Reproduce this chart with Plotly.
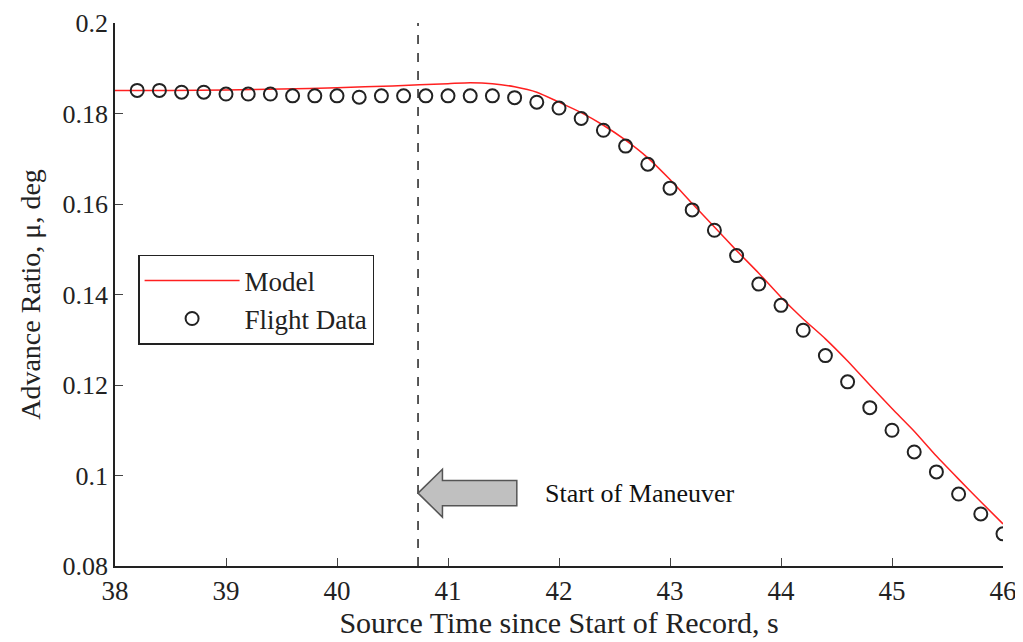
import plotly.graph_objects as go

# Flight data (every 0.2 s)
flight_t = [38.2, 38.4, 38.6, 38.8, 39.0, 39.2, 39.4, 39.6, 39.8, 40.0,
            40.2, 40.4, 40.6, 40.8, 41.0, 41.2, 41.4, 41.6, 41.8, 42.0,
            42.2, 42.4, 42.6, 42.8, 43.0, 43.2, 43.4, 43.6, 43.8, 44.0,
            44.2, 44.4, 44.6, 44.8, 45.0, 45.2, 45.4, 45.6, 45.8, 46.0]
flight_mu = [0.1851, 0.1851, 0.1847, 0.1847, 0.1843, 0.1843, 0.1843, 0.1839, 0.1839, 0.1839,
             0.1836, 0.1839, 0.1839, 0.1839, 0.1839, 0.1839, 0.1839, 0.1835, 0.1825, 0.1812,
             0.1789, 0.1763, 0.1728, 0.1688, 0.1635, 0.1587, 0.1542, 0.1486, 0.1423, 0.1376,
             0.1321, 0.1265, 0.1207, 0.1150, 0.1100, 0.1052, 0.1008, 0.0959, 0.0915, 0.0871]

# Model
model_t = [38.0, 38.5, 39.0, 39.5, 40.0, 40.5, 41.0, 41.2, 41.4, 41.6, 41.8, 42.0,
           42.2, 42.4, 42.6, 42.8, 43.0, 43.2, 43.4, 43.6, 43.8, 44.0, 44.2,
           44.4, 44.6, 44.8, 45.0, 45.2, 45.4, 45.6, 45.8, 46.0]
model_mu = [0.1851, 0.1851, 0.1852, 0.1854, 0.1857, 0.1861, 0.1866, 0.1868, 0.1866, 0.1859,
            0.1847, 0.1825, 0.1802, 0.1774, 0.1741, 0.1702, 0.1654, 0.1601, 0.1549, 0.1497,
            0.1447, 0.1394, 0.1346, 0.1302, 0.1253, 0.1200, 0.1148, 0.1098, 0.1043, 0.0992,
            0.0942, 0.0893]

maneuver_t = 40.73
x_ticks = [38, 39, 40, 41, 42, 43, 44, 45, 46]
y_ticks = [0.08, 0.1, 0.12, 0.14, 0.16, 0.18, 0.2]
y_ticklabels = ["0.08", "0.1", "0.12", "0.14", "0.16", "0.18", "0.2"]

FONT = "Liberation Serif, Times New Roman, serif"
INK = "#222222"

fig = go.Figure()
fig.add_trace(go.Scatter(x=model_t, y=model_mu, mode="lines", name="Model",
                         line=dict(color="#ff2020", width=1.5, shape="spline", smoothing=0.6)))
fig.add_trace(go.Scatter(x=flight_t, y=flight_mu, mode="markers", name="Flight Data",
                         marker=dict(symbol="circle-open", size=13, color=INK,
                                     line=dict(width=2, color=INK))))

# vertical dashed line
fig.add_shape(type="line", x0=maneuver_t, x1=maneuver_t, y0=0.08, y1=0.2,
              xref="x", yref="y", line=dict(color=INK, width=1.5, dash="dash"))

# block arrow pointing to maneuver line
tip_x, head_x, tail_x = maneuver_t, 40.95, 41.62
yc, hh, sh = 0.0961, 0.0053, 0.0028
path = (f"M {tip_x},{yc} L {head_x},{yc+hh} L {head_x},{yc+sh} L {tail_x},{yc+sh} "
        f"L {tail_x},{yc-sh} L {head_x},{yc-sh} L {head_x},{yc-hh} Z")
fig.add_shape(type="path", path=path, xref="x", yref="y",
              fillcolor="#c0c0c0", line=dict(color="#555555", width=1.5))

fig.add_annotation(x=41.86, y=0.0961, xref="x", yref="y", text="Start of Maneuver",
                   showarrow=False, xanchor="left", yanchor="middle",
                   font=dict(family=FONT, size=26, color="#111111"))

fig.update_layout(
    width=1015, height=634,
    margin=dict(l=107, r=20, t=15, b=76),
    paper_bgcolor="white", plot_bgcolor="white",
    font=dict(family=FONT, size=27, color=INK),
    showlegend=True,
    legend=dict(x=0.026, y=0.573, xanchor="left", yanchor="top",
                bordercolor=INK, borderwidth=1.5, bgcolor="white",
                font=dict(family=FONT, size=27), tracegroupgap=0, itemwidth=95),
    xaxis=dict(range=[38, 46], tickvals=x_ticks, ticks="inside", ticklen=8,
               showline=True, linecolor=INK, linewidth=1.5, mirror=False,
               showgrid=False, zeroline=False, automargin=False,
               ticklabeloverflow="allow",
               tickfont=dict(family=FONT, size=27),
               title=dict(text="Source Time since Start of Record, s", standoff=2,
                          font=dict(family=FONT, size=30))),
    yaxis=dict(range=[0.08, 0.2], tickvals=y_ticks, ticktext=y_ticklabels,
               ticks="inside", ticklen=8,
               showline=True, linecolor=INK, linewidth=1.5, mirror=False,
               showgrid=False, zeroline=False, automargin=False,
               ticklabeloverflow="allow",
               tickfont=dict(family=FONT, size=26),
               title=dict(text="Advance Ratio, μ, deg", standoff=14,
                          font=dict(family=FONT, size=28))),
)

fig.write_html("out.html")
